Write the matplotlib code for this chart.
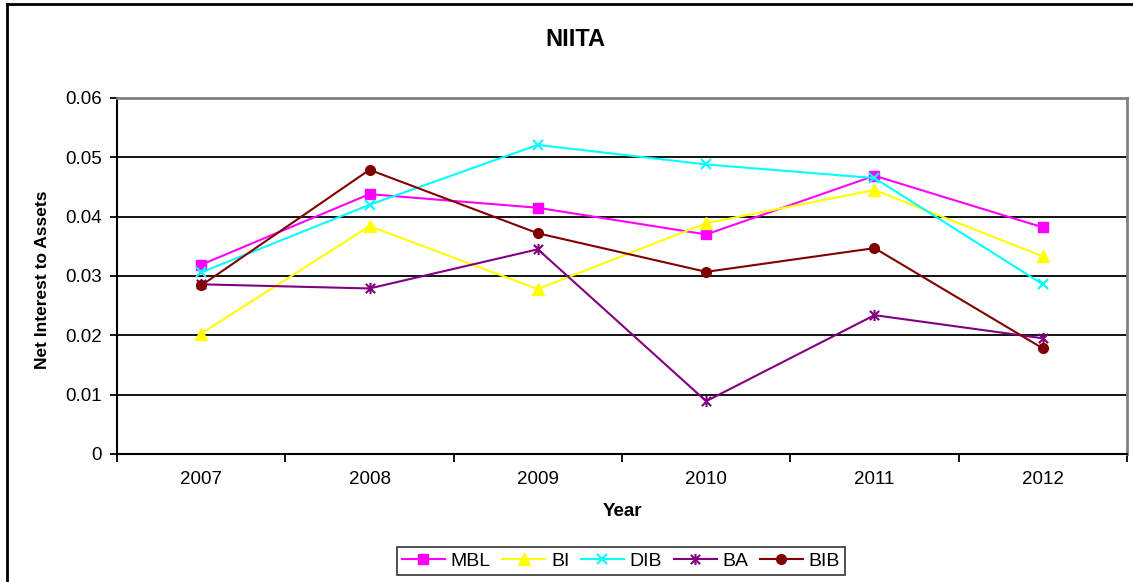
import matplotlib
matplotlib.use("Agg")
import matplotlib.pyplot as plt
from matplotlib.lines import Line2D
from matplotlib.path import Path

plt.rcParams['font.family'] = ['Liberation Sans', 'DejaVu Sans']

years = ['2007', '2008', '2009', '2010', '2011', '2012']
MBL = [0.0319, 0.0438, 0.0415, 0.0370, 0.0469, 0.0382]
BI = [0.0203, 0.0384, 0.0278, 0.0389, 0.0445, 0.0333]
DIB = [0.0306, 0.0420, 0.0521, 0.0488, 0.0465, 0.0286]
BA = [0.0286, 0.0279, 0.0345, 0.0089, 0.0234, 0.0195]
BIB = [0.0284, 0.0479, 0.0372, 0.0307, 0.0347, 0.0178]

series = [
    ('MBL', MBL, '#FF00FF', 's', 7),
    ('BI', BI, '#FFFF00', '^', 9),
    ('DIB', DIB, '#00FFFF', 'x', 7),
    ('BA', BA, '#800080', None, 8),
    ('BIB', BIB, '#800000', 'o', 7),
]

# asterisk marker: x plus vertical stroke
star = Path([(-1, -1), (1, 1), (-1, 1), (1, -1), (0, -1.2), (0, 1.2)],
            [Path.MOVETO, Path.LINETO, Path.MOVETO, Path.LINETO, Path.MOVETO, Path.LINETO])

W, H = 1133, 582
fig = plt.figure(figsize=(W / 100, H / 100), dpi=100)
ax = fig.add_axes([117 / W, 1 - 454 / H, (1127 - 117) / W, (454 - 98) / H])

x = list(range(len(years)))
for name, vals, color, mk, ms in series:
    marker = star if mk is None else mk
    ax.plot(x, vals, color=color, lw=1.5, marker=marker, markersize=ms,
            markeredgewidth=1.5 if mk in ('x', None) else 1.0,
            markerfacecolor=color, markeredgecolor=color, label=name, zorder=3)

ax.set_xlim(-0.5, len(years) - 0.5)
ax.set_ylim(0, 0.06)
ax.set_yticks([0, 0.01, 0.02, 0.03, 0.04, 0.05, 0.06])
ax.set_yticklabels(['0', '0.01', '0.02', '0.03', '0.04', '0.05', '0.06'])
ax.set_xticks([i - 0.5 for i in range(len(years) + 1)])
ax.set_xticklabels([])
ax.set_xticks(x, minor=True)
ax.set_xticklabels(years, minor=True)
ax.tick_params(axis='x', which='major', direction='out', length=6, width=1.3, color='black')
ax.tick_params(axis='x', which='minor', length=0, pad=12, labelsize=13.5)
ax.tick_params(axis='y', which='major', direction='out', length=5, width=1.3, pad=6, labelsize=13.5)

for yv in [0.01, 0.02, 0.03, 0.04, 0.05]:
    ax.axhline(yv, color='black', lw=1.3, zorder=1)

ax.spines['left'].set_color('black')
ax.spines['bottom'].set_color('black')
ax.spines['left'].set_linewidth(1.5)
ax.spines['bottom'].set_linewidth(1.5)
ax.spines['top'].set_color('#808080')
ax.spines['right'].set_color('#808080')
ax.spines['top'].set_linewidth(2)
ax.spines['right'].set_linewidth(2)

fig.text(575 / W, 1 - 40 / H, 'NIITA', ha='center', va='center', fontsize=17, fontweight='bold')
fig.text(622 / W, 1 - 512 / H, 'Year', ha='center', va='center', fontsize=13.5, fontweight='bold')
fig.text(43 / W, 1 - 280 / H, 'Net Interest to Assets', ha='center', va='center',
         rotation=90, fontsize=12.5, fontweight='bold')

# figure border (top and left visible)
fig.add_artist(Line2D([7 / W, 7 / W], [0, 1 - 4 / H], transform=fig.transFigure, color='black', lw=2))
fig.add_artist(Line2D([7 / W, 1], [1 - 4 / H, 1 - 4 / H], transform=fig.transFigure, color='black', lw=2))

leg = fig.legend(loc='center', bbox_to_anchor=(621 / W, 1 - 561 / H), ncol=5, fontsize=14,
                 frameon=True, fancybox=False, edgecolor='black', handlelength=2.2,
                 handletextpad=0.3, columnspacing=0.6, borderpad=0.25, borderaxespad=0)
leg.get_frame().set_linewidth(1.2)

fig.savefig('out.png', dpi=100)
